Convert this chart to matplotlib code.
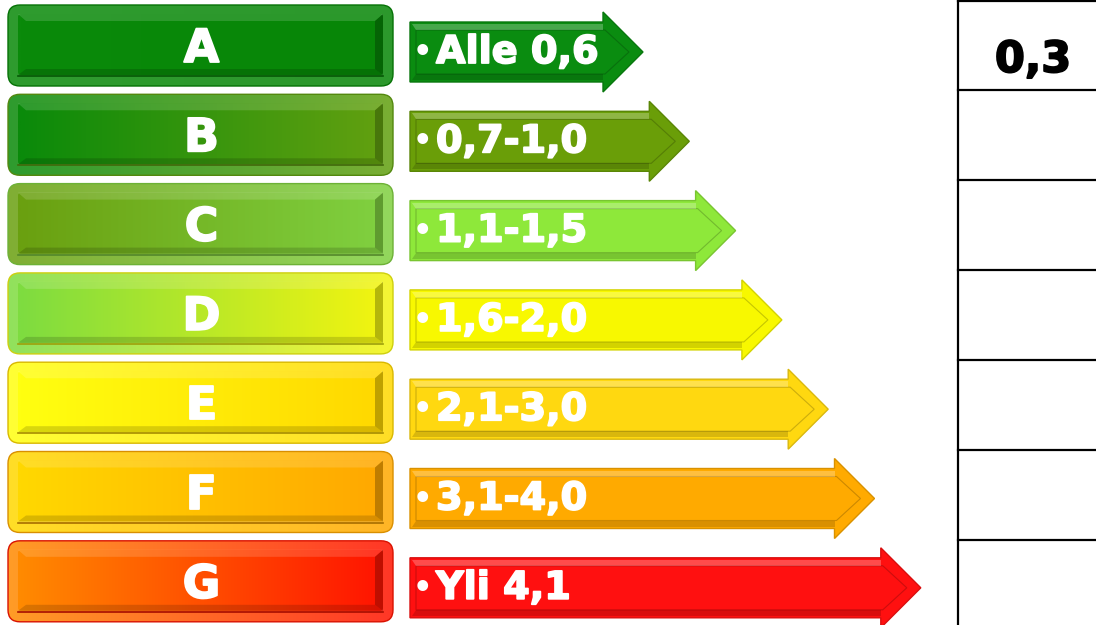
import numpy as np
import matplotlib
matplotlib.use("Agg")
import matplotlib.pyplot as plt
import matplotlib.patheffects as pe
from matplotlib.patches import FancyBboxPatch, Polygon
from matplotlib.colors import to_rgb

# Energy classes and their ranges
classes = ["A", "B", "C", "D", "E", "F", "G"]
ranges = ["Alle 0,6", "0,7-1,0", "1,1-1,5", "1,6-2,0", "2,1-3,0", "3,1-4,0", "Yli 4,1"]
table_values = ["0,3", "", "", "", "", "", ""]

# left bar gradient (left colour, right colour)
bar_colors = [("#0a8a0a", "#078607"), ("#0a8a0a", "#62a010"), ("#6aa010", "#80d040"),
              ("#7edc40", "#f2f410"), ("#ffff10", "#ffd800"), ("#ffd800", "#ffa800"),
              ("#ff8a00", "#ff1400")]
arrow_colors = ["#0a8c10", "#6a9e08", "#8ee83a", "#f8f800", "#ffd810", "#ffaa00", "#ff1010"]

W, H = 1096, 625
fig = plt.figure(figsize=(W / 100, H / 100), dpi=100)
ax = fig.add_axes([0, 0, 1, 1])
ax.set_xlim(0, W)
ax.set_ylim(H, 0)
ax.axis("off")

pitch = 89.3
bold = dict(family=["DejaVu Sans"], weight="bold")
heavy_white = [pe.withStroke(linewidth=1.3, foreground="white")]
heavy_black = [pe.withStroke(linewidth=1.3, foreground="black")]


def lighten(c, f):
    c = np.array(to_rgb(c))
    return tuple(c + (1 - c) * f)


def darken(c, f):
    return tuple(np.array(to_rgb(c)) * (1 - f))


def hgrad(c1, c2, n=64):
    a, b = np.array(to_rgb(c1)), np.array(to_rgb(c2))
    t = np.linspace(0, 1, n)[None, :, None]
    return a + (b - a) * t


def gradient_patch(patch, c1, c2, extent, z):
    ax.add_patch(patch)
    im = ax.imshow(hgrad(c1, c2), extent=extent, aspect="auto", zorder=z,
                   interpolation="bilinear")
    im.set_clip_path(patch)


for i, cls in enumerate(classes):
    y0 = 5 + i * pitch
    h = 81
    x0, x1 = 8, 393
    c1, c2 = bar_colors[i]
    # outer rim
    rim = FancyBboxPatch((x0, y0), x1 - x0, h, boxstyle="round,pad=0,rounding_size=12",
                         facecolor="none", edgecolor="none", zorder=1)
    gradient_patch(rim, lighten(c1, 0.15), lighten(c2, 0.15), (x0, x1, y0 + h, y0), 1)
    ax.add_patch(FancyBboxPatch((x0, y0), x1 - x0, h, boxstyle="round,pad=0,rounding_size=12",
                                facecolor="none", edgecolor=darken(c2, 0.15), lw=1, zorder=5))
    # inner face
    ix0, ix1, iy0, iy1 = x0 + 10, x1 - 10, y0 + 9, y0 + h - 11
    face = FancyBboxPatch((ix0, iy0), ix1 - ix0, iy1 - iy0, boxstyle="round,pad=0,rounding_size=3",
                          facecolor="none", edgecolor="none", zorder=3)
    gradient_patch(face, c1, c2, (ix0, ix1, iy1, iy0), 3)
    # bevel highlight and shadow
    ax.add_patch(Polygon([(ix0, iy0), (ix1, iy0), (ix1 - 8, iy0 + 7), (ix0 + 8, iy0 + 7)],
                         closed=True, facecolor=(1, 1, 1, 0.15), edgecolor="none", zorder=4))
    ax.add_patch(Polygon([(ix0, iy1), (ix1, iy1), (ix1 - 8, iy1 - 6), (ix0 + 8, iy1 - 6)],
                         closed=True, facecolor=(0, 0, 0, 0.15), edgecolor="none", zorder=4))
    ax.add_patch(Polygon([(ix1, iy0), (ix1, iy1), (ix1 - 8, iy1 - 6), (ix1 - 8, iy0 + 7)],
                         closed=True, facecolor=(0, 0, 0, 0.25), edgecolor="none", zorder=4))
    ax.plot([ix0, ix1], [iy1 + 1, iy1 + 1], color=darken(c2, 0.35), lw=1.2, zorder=4)
    ax.text((x0 + x1) / 2 + 1, y0 + 57, cls, color="white", fontsize=33,
            ha="center", va="baseline", zorder=6, path_effects=heavy_white, **bold)

    # arrow
    yc = 52 + i * pitch
    ax0 = 410
    tip = 643 + i * 46.3
    xh = tip - 40
    col = arrow_colors[i]
    pts = [(ax0, yc - 30), (xh, yc - 30), (xh, yc - 40), (tip, yc), (xh, yc + 40),
           (xh, yc + 30), (ax0, yc + 30)]
    ax.add_patch(Polygon(pts, closed=True, facecolor=col, edgecolor=darken(col, 0.15),
                         lw=1, zorder=2))
    ipts = [(ax0 + 6, yc - 22), (xh + 2, yc - 22), (tip - 14, yc), (xh + 2, yc + 22),
            (ax0 + 6, yc + 22)]
    ax.add_patch(Polygon(ipts, closed=True, facecolor=col, edgecolor=darken(col, 0.2),
                         lw=0.8, zorder=3))
    ax.add_patch(Polygon([(ax0 + 2, yc - 28), (xh, yc - 28), (xh, yc - 22), (ax0 + 6, yc - 22)],
                         closed=True, facecolor=(1, 1, 1, 0.25), edgecolor="none", zorder=3))
    ax.add_patch(Polygon([(ax0 + 2, yc + 28), (xh, yc + 28), (xh, yc + 22), (ax0 + 6, yc + 22)],
                         closed=True, facecolor=(0, 0, 0, 0.15), edgecolor="none", zorder=3))
    ax.text(413, yc + 9, "\u2022", color="white", fontsize=22, ha="left", va="baseline",
            zorder=6, **bold)
    ax.text(436, yc + 11, ranges[i], color="white", fontsize=27.5, ha="left", va="baseline",
            zorder=6, path_effects=heavy_white, **bold)

    # table row
    ty = 90 * i
    if i > 0:
        ax.plot([958, W], [ty, ty], color="black", lw=1.6, zorder=2)
    if table_values[i]:
        ax.text(1033, ty + 72, table_values[i], color="black", fontsize=31, ha="center",
                va="baseline", path_effects=heavy_black, **bold)

ax.plot([958, W], [1, 1], color="black", lw=1.6)
ax.plot([958, 958], [0, H], color="black", lw=1.6)

fig.savefig("out.png", dpi=100)
